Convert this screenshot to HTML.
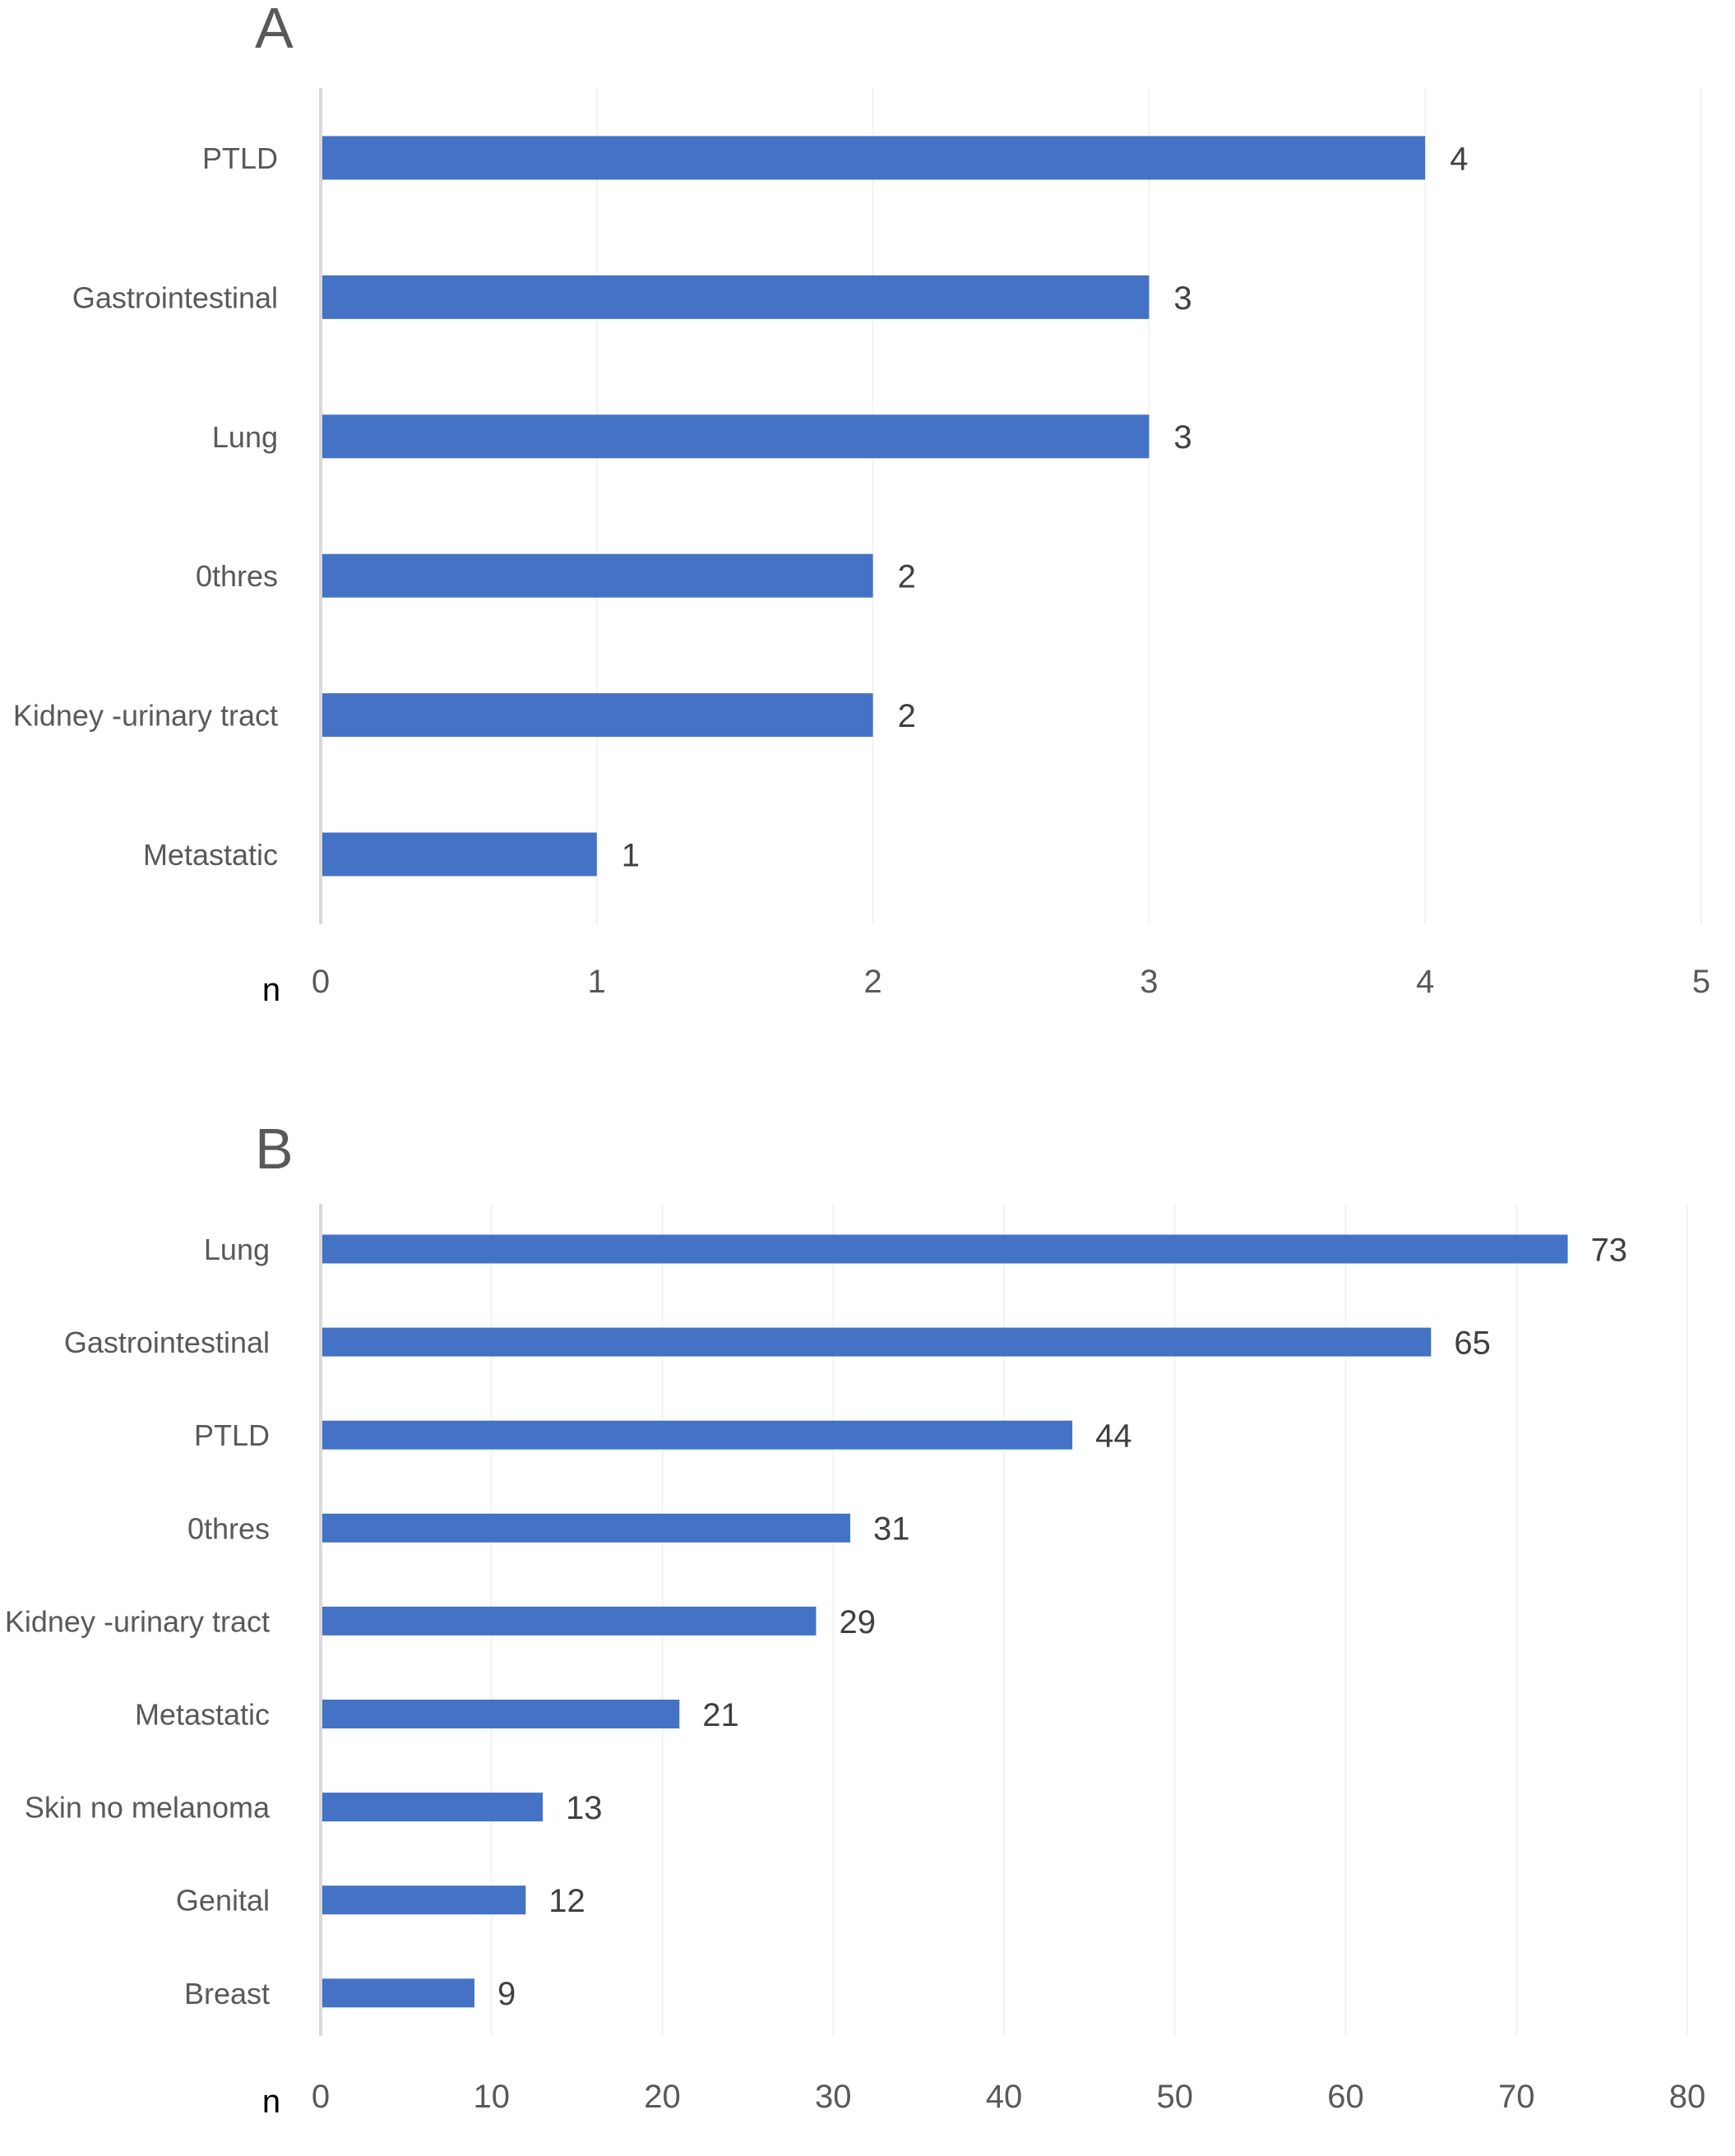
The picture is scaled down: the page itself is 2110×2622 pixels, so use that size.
<!DOCTYPE html>
<html><head><meta charset="utf-8"><style>
html,body{margin:0;padding:0;background:#fff;}
svg{display:block;font-family:"Liberation Sans",Arial,sans-serif;}
</style></head><body>
<svg id="chart" width="2110" height="2622" viewBox="0 0 2110 2622" xmlns="http://www.w3.org/2000/svg"></svg>
<script>
const catsA = ["PTLD","Gastrointestinal","Lung","0thres","Kidney -urinary tract","Metastatic"];
const valsA = [4,3,3,2,2,1];
const ticksA = [0,1,2,3,4,5];
const catsB = ["Lung","Gastrointestinal","PTLD","0thres","Kidney -urinary tract","Metastatic","Skin no melanoma","Genital","Breast"];
const valsB = [73,65,44,31,29,21,13,12,9];
const ticksB = [0,10,20,30,40,50,60,70,80];

const svg = document.getElementById('chart');
const NS = "http://www.w3.org/2000/svg";
function mk(tag, attrs, parent){
  const e = document.createElementNS(NS, tag);
  for (const k in attrs) e.setAttribute(k, attrs[k]);
  (parent||svg).appendChild(e);
  return e;
}

function panel(p){
  const g = mk('g', {});
  
  
  const x = v => p.x0 + (v - p.ticks[0]) / (p.ticks[p.ticks.length-1] - p.ticks[0]) * (p.x1 - p.x0);
  const y = i => p.yFirst + i * p.pitch;
  const t = mk('text', {x:p.titleX, y:p.titleY, 'font-size':p.titleSize, fill:'#595959'}, g);
  t.textContent = p.title;
  
  
  p.ticks.forEach((tv, i) => {
    if (i === 0) return;
    const l = mk('line', {x1:x(tv), x2:x(tv), y1:p.top, y2:p.bottom, stroke:'#f2f2f2', 'stroke-width':2}, g);
    
    
  });
  const ax = mk('line', {x1:p.x0, x2:p.x0, y1:p.top, y2:p.bottom, stroke:'#d9d9d9', 'stroke-width':4}, g);
  
  
  p.ticks.forEach(tv => {
    const tl = mk('text', {x:x(tv), y:p.tickY, 'font-size':p.tfs, fill:'#595959', 'text-anchor':'middle'}, g);
    tl.textContent = tv;
    
    
  });
  const n = mk('text', {x:p.nX, y:p.nY, 'font-size':p.tfs, fill:'#000', 'text-anchor':'middle'}, g);
  n.textContent = 'n';
  
  
  p.cats.forEach((c, i) => {
    const cy = y(i);
    const cl = mk('text', {x:p.labelX, y:cy + p.fs*0.36, 'font-size':p.fs, fill:'#595959', 'text-anchor':'end'}, g);
    cl.textContent = c;
    
    
    const b = mk('rect', {x:p.x0 + 2, y:cy - p.barH/2, width:x(p.vals[i]) - p.x0 - 2, height:p.barH, fill:'#4472c4'}, g);
    
    
    const vl = mk('text', {x:x(p.vals[i]) + p.valOff, y:cy + p.tfs*0.36, 'font-size':p.tfs, fill:'#404040'}, g);
    vl.textContent = p.vals[i];
    
    
  });
}

panel({name:'panel-a', title:'A', titleX:310, titleY:58, titleSize:70,
  cats:catsA, vals:valsA, ticks:ticksA, x0:390, x1:2069,
  yFirst:192, pitch:169.4, barH:53, top:107, bottom:1124,
  tickY:1207, nX:330, nY:1217, labelX:338, fs:36, tfs:40, valOff:30});

panel({name:'panel-b', title:'B', titleX:310, titleY:1421, titleSize:70,
  cats:catsB, vals:valsB, ticks:ticksB, x0:390, x1:2052,
  yFirst:1519, pitch:113.1, barH:35, top:1464, bottom:2476,
  tickY:2563, nX:330, nY:2569, labelX:328, fs:36, tfs:40, valOff:28});
</script>
</body></html>
